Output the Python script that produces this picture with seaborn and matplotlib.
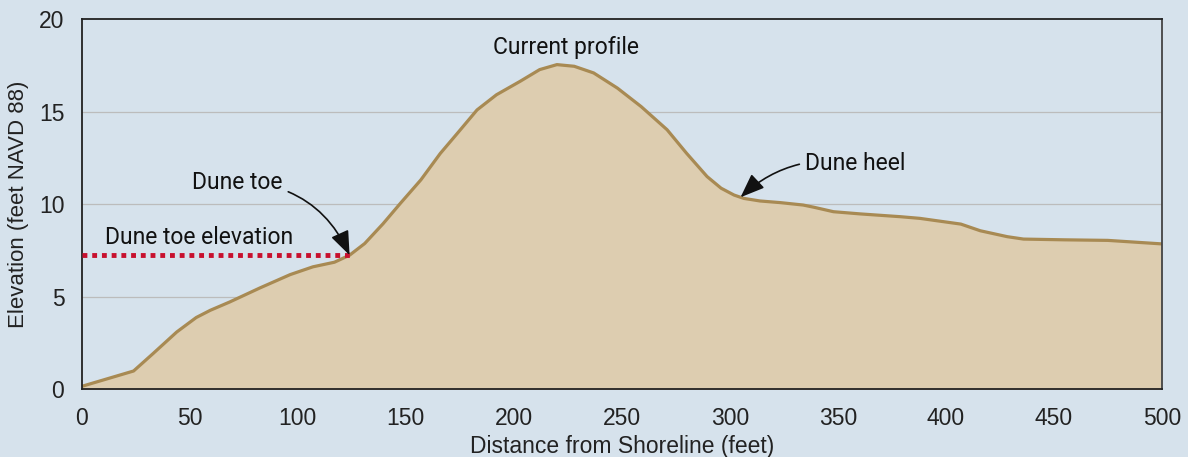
import matplotlib
matplotlib.use("Agg")
import matplotlib.pyplot as plt
import seaborn as sns
import pandas as pd

# beach profile
distance_ft = [0, 24, 33, 44, 53, 59.5, 68.5, 82.5, 96.5, 107, 117, 124, 131, 139.5,
               147.5, 157, 166, 174, 183, 192, 203, 212, 220, 228, 237, 248, 259, 271,
               280, 289.5, 296, 302, 306.5, 314, 323.5, 334, 339, 348, 360.5, 379, 388,
               407, 416, 428.5, 436, 455, 475, 500]
elevation_ft = [0.16, 0.99, 1.93, 3.1, 3.88, 4.27, 4.72, 5.48, 6.2, 6.62, 6.87, 7.25, 7.88, 8.95,
                10.05, 11.32, 12.75, 13.85, 15.1, 15.92, 16.65, 17.28, 17.55, 17.46, 17.1, 16.28,
                15.28, 14.03, 12.76, 11.5, 10.87, 10.5, 10.32, 10.18, 10.09, 9.96, 9.84, 9.6,
                9.48, 9.33, 9.24, 8.93, 8.57, 8.25, 8.12, 8.08, 8.05, 7.86]

toe_x = 124
toe_elev = 7.25
heel_x = 305
heel_elev = 10.38

df = pd.DataFrame({"distance": distance_ft, "elevation": elevation_ft})

bg = "#d6e2ec"
sand = "#ddcdb0"
edge = "#a88a53"
ink = "#222222"

sns.set_style("white")
plt.rcParams["font.family"] = ["Liberation Sans", "DejaVu Sans"]

fig = plt.figure(figsize=(11.88, 4.57), dpi=100, facecolor=bg)
ax = fig.add_axes([0.0688, 0.1481, 0.9091, 0.8097])
ax.set_facecolor(bg)

for yy in [5, 10, 15]:
    ax.axhline(yy, color="#bcbcbc", lw=0.9, zorder=0)

ax.fill_between(df["distance"], df["elevation"], 0, color=sand, lw=0, zorder=1)
sns.lineplot(data=df, x="distance", y="elevation", color=edge, lw=2.3, ax=ax, zorder=2)

ax.plot([0, toe_x], [toe_elev, toe_elev], color="#c8102e", lw=3.5,
        linestyle=(0, (1, 1)), zorder=3)

ax.set_xlim(0, 500)
ax.set_ylim(0, 20)
ax.set_xticks(range(0, 501, 50))
ax.set_yticks([0, 5, 10, 15, 20])
ax.tick_params(axis="both", labelsize=16.5, colors=ink, length=9, width=1.1,
               direction="out")
ax.tick_params(axis="x", pad=4)

for s in ["top", "left", "bottom", "right"]:
    ax.spines[s].set_color(ink)
    ax.spines[s].set_linewidth(1.3)
ax.spines["right"].set_color("#444444")

ax.set_xlabel("Distance from Shoreline (feet)", fontsize=16.5, color=ink, labelpad=3)
ax.set_ylabel("Elevation (feet NAVD 88)", fontsize=16, color=ink, labelpad=7)

txt = dict(fontsize=16.5, color="#111111", family=["Roboto", "DejaVu Sans"])
arrow = dict(arrowstyle="-|>,head_length=0.9,head_width=0.35", color="#111111", lw=1.2,
             shrinkA=2, shrinkB=0)
ax.text(224, 18.45, "Current profile", ha="center", va="center", **txt)
ax.text(10.8, 8.2, "Dune toe elevation", ha="left", va="center", **txt)
ax.annotate("Dune toe", xy=(toe_x, toe_elev), xytext=(51, 11.2),
            ha="left", va="center", **txt,
            arrowprops=dict(connectionstyle="arc3,rad=-0.32", **arrow))
ax.annotate("Dune heel", xy=(heel_x, heel_elev), xytext=(335, 12.23),
            ha="left", va="center", **txt,
            arrowprops=dict(connectionstyle="arc3,rad=0.25", **arrow))

fig.savefig("out.png", dpi=100, facecolor=bg)
